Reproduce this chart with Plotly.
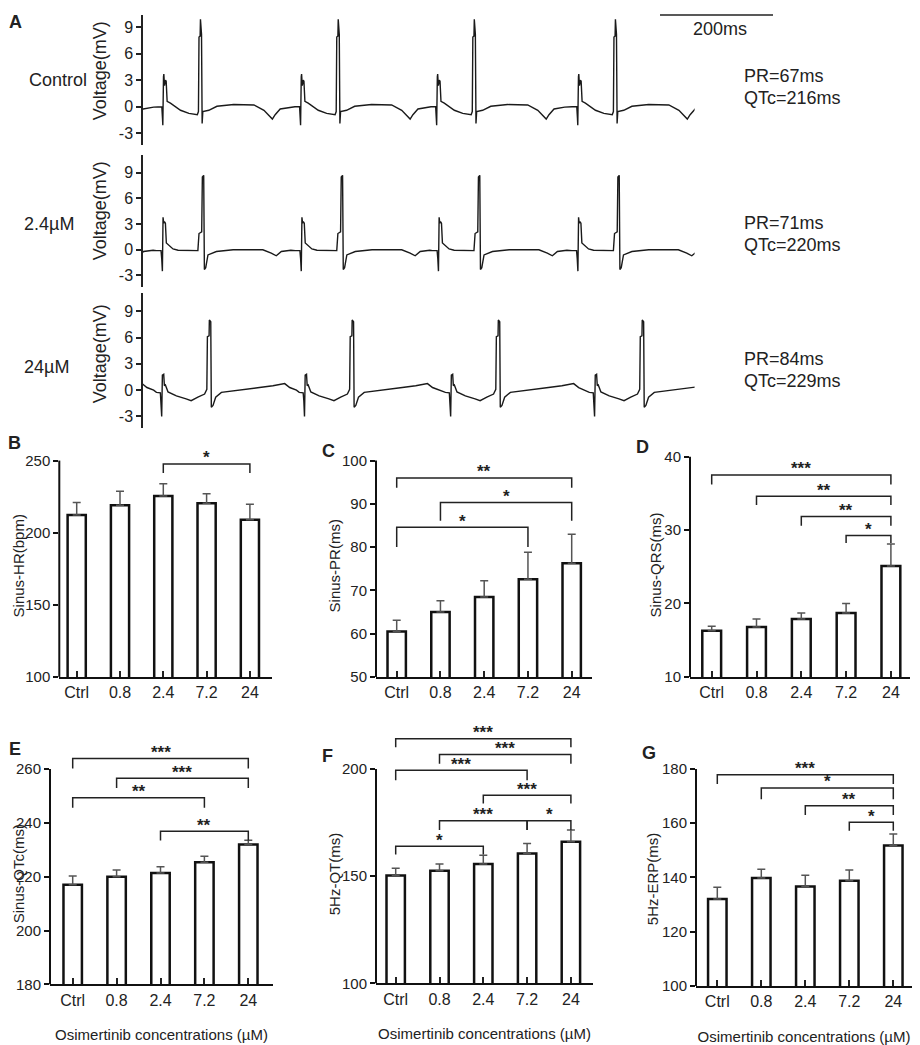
import plotly.graph_objects as go

# the page adds an 8px body margin, so the figure is 8px smaller and positions are shifted
OFF = 8
W, H = 920 - OFF, 1045 - OFF
FONT = "Liberation Sans, Arial, sans-serif"
INK = "#222"


def px(x):
    return (x - OFF) / W


def py(y):
    return 1 - (y - OFF) / H


# ---------------- panel A: ECG traces ----------------
ecg_names = ["Control", "2.4µM", "24µM"]
ecg_pr = ["PR=67ms", "PR=71ms", "PR=84ms"]
ecg_qtc = ["QTc=216ms", "QTc=220ms", "QTc=229ms"]

# one beat per trace: time (ms) from the small spike, voltage (mV)
ctrl_beat_t = [-10.7, -2.4, -1.2, -0.6, 0.6, 1.2, 2.4, 4.2, 5.4, 7.1, 13, 31, 46, 61, 63,
               64, 66, 66.6, 68.5, 69.6, 70.8, 81.5, 96, 126, 162, 180, 195, 200, 209, 228]
ctrl_beat_v = [0, 0, -1.3, -2.1, 3.4, 3.7, 2.4, 3.0, 2.9, 0.6, 0.4, -0.4, -0.75, -0.9, -0.55,
               7.9, 8.0, 9.9, 8.2, -1.9, -0.55, -0.4, 0.05, 0.25, 0.2, -0.4, -1.4, -0.9, -0.25, -0.05]
ctrl_spikes = [-209, 36, 282, 525, 777]

mid_beat_t = [-10, -1.8, -0.6, 0.6, 1.8, 3.0, 4.2, 6.0, 7.7, 10.7, 19.6, 28.6, 64, 66, 70.8,
              72, 74.4, 75.6, 78, 82, 97, 127, 180, 195, 204, 213, 230]
mid_beat_v = [-0.1, -0.1, -1.0, -2.5, 3.8, 3.1, 3.3, 3.1, 0.8, 0.6, 0.1, -0.05, -0.1, 1.9, 2.1,
              8.5, 8.7, -2.3, -2.1, -0.6, -0.2, 0, 0, -0.4, -0.7, -0.2, -0.05]
mid_spikes = [-212, 34, 282, 527, 776]

high_beat_t = [-10, -3, -1.8, -0.6, 0.6, 3, 4.2, 6, 10.7, 25.6, 43, 52, 64, 76, 80, 81, 84,
               84.5, 87, 88, 91, 95.8, 106, 127, 174, 198, 219, 228, 240]
high_beat_v = [-0.25, -0.3, -1.2, -3.0, 1.7, 1.8, 0.5, 0.6, -0.2, -0.65, -1.0, -1.2, -0.8, -0.45,
               0.1, 6.1, 6.2, 8.0, 7.8, -1.95, -1.75, -0.8, -0.25, -0.1, 0.3, 0.5, 0.75, 0.3, 0]
high_spikes = [-221, 34, 289, 550, 807]

# ---------------- panels B-G: bar charts ----------------
conc = ["Ctrl", "0.8", "2.4", "7.2", "24"]

hr_mean = [212.2, 219, 225.4, 220.4, 209]
hr_sem = [8.7, 9.8, 8.6, 6.6, 10.7]
hr_pairs = [(2, 4)]
hr_line = [247.7]
hr_leg = [241.4]
hr_stars = ["*"]

pr_mean = [60.5, 65, 68.5, 72.6, 76.3]
pr_sem = [2.6, 2.6, 3.7, 6.2, 6.7]
pr_pairs = [(0, 4), (1, 4), (0, 3)]
pr_line = [96.0, 90.3, 84.6]
pr_leg = [93.7, 86.1, 80.0]
pr_stars = ["**", "*", "*"]

qrs_mean = [16.3, 16.8, 17.9, 18.7, 25.1]
qrs_sem = [0.6, 1.1, 0.8, 1.3, 3.0]
qrs_pairs = [(0, 4), (1, 4), (2, 4), (3, 4)]
qrs_line = [37.5, 34.6, 31.85, 29.25]
qrs_leg = [36.2, 33.4, 30.6, 28.25]
qrs_stars = ["***", "**", "**", "*"]

qtc_mean = [217, 220, 221.4, 225.4, 232]
qtc_sem = [3.3, 2.5, 2.3, 2.2, 1.5]
qtc_pairs = [(0, 4), (1, 4), (0, 3), (2, 4)]
qtc_line = [263.9, 256.6, 249.3, 236.9]
qtc_leg = [260.2, 252.9, 245.6, 233.4]
qtc_stars = ["***", "***", "**", "**"]

qt_mean = [150.3, 152.6, 155.7, 160.6, 166.1]
qt_sem = [3.4, 3.1, 4.1, 4.6, 5.4]
qt_pairs = [(0, 4), (1, 4), (0, 3), (2, 4), (1, 3), (3, 4), (0, 2)]
qt_line = [214.1, 206.7, 199.4, 187.7, 175.8, 175.8, 164.0]
qt_leg = [210.1, 202.4, 194.8, 183.9, 171.6, 171.6, 160.1]
qt_stars = ["***", "***", "***", "***", "***", "*", "*"]

erp_mean = [132.1, 139.8, 136.7, 138.8, 151.8]
erp_sem = [4.3, 3.2, 4.1, 4.0, 4.2]
erp_pairs = [(0, 4), (1, 4), (2, 4), (3, 4)]
erp_line = [177.9, 173.0, 166.4, 160.4]
erp_leg = [174.5, 168.8, 163.0, 157.2]
erp_stars = ["***", "*", "**", "*"]

fig = go.Figure()
layout = dict(
    width=W, height=H, margin=dict(l=0, r=0, t=0, b=0),
    paper_bgcolor="white", plot_bgcolor="white", showlegend=False,
    font=dict(family=FONT, size=16, color=INK),
)
annotations = []
shapes = []


def note(text, x, y, size=18, xanchor="center", angle=0, bold=False):
    if bold:
        text = "<b>" + text + "</b>"
    annotations.append(dict(text=text, x=px(x), y=py(y), xref="paper", yref="paper",
                            showarrow=False, xanchor=xanchor, yanchor="middle",
                            textangle=angle, font=dict(size=size, color=INK)))


# ECG rows: zero-line pixel, px per mV, top of axis (mV), label positions
ecg_rows = [
    (ctrl_beat_t, ctrl_beat_v, ctrl_spikes, 102, 8.95, 10.4, 27, 75, 66, 71),
    (mid_beat_t, mid_beat_v, mid_spikes, 247, 8.67, 11.1, 22, 221, 208, 220),
    (high_beat_t, high_beat_v, high_spikes, 389.3, 8.89, 11.1, 22, 366, 353, 358),
]
for k, (bt, bv, spikes, z0, s, top, lab_x, lab_y, vt_y, pr_y) in enumerate(ecg_rows):
    n = k + 1
    t = [sp + x for sp in spikes for x in bt]
    v = [y for sp in spikes for y in bv]
    fig.add_trace(go.Scatter(x=t, y=v, mode="lines", line=dict(color="#1a1a1a", width=1.4),
                             xaxis=f"x{n}", yaxis=f"y{n}", hoverinfo="skip"))
    layout[f"xaxis{n}"] = dict(domain=[px(143), px(143 + 985 * 0.56)], range=[0, 985],
                               visible=False, anchor=f"y{n}")
    layout[f"yaxis{n}"] = dict(
        domain=[py(z0 + 4.3 * s), py(z0 - top * s)], range=[-4.3, top], anchor=f"x{n}",
        tickvals=[-3, 0, 3, 6, 9], ticktext=["-3", "0", "3", "6", "9"],
        ticks="outside", ticklen=5, tickwidth=1.5, tickcolor=INK,
        showline=True, linewidth=1.5, linecolor=INK, showgrid=False, zeroline=False,
        tickfont=dict(size=16))
    note(ecg_names[k], lab_x, lab_y, xanchor="left")
    note("Voltage(mV)", 100, vt_y, angle=-90)
    note(ecg_pr[k], 742, pr_y, xanchor="left")
    note(ecg_qtc[k], 742, pr_y + 22, xanchor="left")

note("A", 15, 16, bold=True)
shapes.append(dict(type="line", xref="paper", yref="paper", x0=px(660), x1=px(773),
                   y0=py(9), y1=py(9), line=dict(color=INK, width=1.5)))
note("200ms", 720, 23)

# bar panels: data + pixel geometry
panels = [
    dict(letter="B", mean=hr_mean, sem=hr_sem, pairs=hr_pairs, line=hr_line, leg=hr_leg,
         stars=hr_stars, title="Sinus-HR(bpm)", ylo=100, ytk=250, dt=50,
         left=59.3, right=272, c0=76.7, sp=43.3, ybot=680, ytkpx=460.7, ytop=452,
         tx=18, ty=568, lx=14, ly=443, bottom=False),
    dict(letter="C", mean=pr_mean, sem=pr_sem, pairs=pr_pairs, line=pr_line, leg=pr_leg,
         stars=pr_stars, title="Sinus-PR(ms)", ylo=50, ytk=100, dt=10,
         left=376, right=592, c0=396.7, sp=43.75, ybot=680, ytkpx=460.7, ytop=458,
         tx=334, ty=568, lx=328, ly=451, bottom=False),
    dict(letter="D", mean=qrs_mean, sem=qrs_sem, pairs=qrs_pairs, line=qrs_line, leg=qrs_leg,
         stars=qrs_stars, title="Sinus-QRS(ms)", ylo=10, ytk=40, dt=10,
         left=690, right=910, c0=711.7, sp=44.8, ybot=680, ytkpx=456.7, ytop=452,
         tx=655, ty=567, lx=642, ly=447, bottom=False),
    dict(letter="E", mean=qtc_mean, sem=qtc_sem, pairs=qtc_pairs, line=qtc_line, leg=qtc_leg,
         stars=qtc_stars, title="Sinus-QTc(ms)", ylo=180, ytk=260, dt=20,
         left=50, right=273, c0=72.7, sp=43.9, ybot=991.7, ytkpx=773.3, ytop=752,
         tx=18, ty=880, lx=15, ly=753, bottom=True),
    dict(letter="F", mean=qt_mean, sem=qt_sem, pairs=qt_pairs, line=qt_line, leg=qt_leg,
         stars=qt_stars, title="5Hz-QT(ms)", ylo=100, ytk=200, dt=50,
         left=376, right=593, c0=395.7, sp=43.8, ybot=990.7, ytkpx=773.3, ytop=735,
         tx=334, ty=880, lx=327, ly=760, bottom=True),
    dict(letter="G", mean=erp_mean, sem=erp_sem, pairs=erp_pairs, line=erp_line, leg=erp_leg,
         stars=erp_stars, title="5Hz-ERP(ms)", ylo=100, ytk=180, dt=20,
         left=696, right=912, c0=717.3, sp=44.0, ybot=993.3, ytkpx=773.3, ytop=768,
         tx=652, ty=885, lx=649, ly=757, bottom=True),
]

xs = list(range(len(conc)))
for k, p in enumerate(panels):
    n = k + 4
    xa, ya = f"x{n}", f"y{n}"
    fig.add_trace(go.Bar(
        x=xs, y=p["mean"], width=0.42, xaxis=xa, yaxis=ya,
        marker=dict(color="white", line=dict(color="#111", width=2.5)),
        error_y=dict(type="data", array=p["sem"], arrayminus=[0] * len(xs), symmetric=False,
                     color="#555", thickness=1.5, width=4),
        hoverinfo="skip"))
    for (i, j), ly_, lg, st in zip(p["pairs"], p["line"], p["leg"], p["stars"]):
        fig.add_trace(go.Scatter(x=[i, i, j, j], y=[lg, ly_, ly_, lg], mode="lines",
                                 line=dict(color=INK, width=1.5), xaxis=xa, yaxis=ya,
                                 hoverinfo="skip"))
        annotations.append(dict(text="<b>" + st + "</b>", x=(i + j) / 2, y=ly_, xref=xa,
                                yref=ya, showarrow=False, yanchor="middle", yshift=6,
                                font=dict(size=17, color=INK)))
    hi = p["ylo"] + (p["ytk"] - p["ylo"]) * (p["ybot"] - p["ytop"]) / (p["ybot"] - p["ytkpx"])
    xaxis = dict(
        domain=[px(p["left"]), px(p["right"])], anchor=ya,
        range=[(p["left"] - p["c0"]) / p["sp"], (p["right"] - p["c0"]) / p["sp"]],
        tickvals=xs, ticktext=conc, ticks="inside", ticklen=6, tickwidth=1.5, tickcolor=INK,
        showline=True, linewidth=2, linecolor="#111", showgrid=False, zeroline=False,
        tickfont=dict(size=16))
    if p["bottom"]:
        xaxis["title"] = dict(text="Osimertinib concentrations (µM)", font=dict(size=15),
                              standoff=22)
    layout[f"xaxis{n}"] = xaxis
    layout[f"yaxis{n}"] = dict(
        domain=[py(p["ybot"]), py(p["ytop"])], range=[p["ylo"], hi], anchor=xa,
        tickvals=list(range(p["ylo"], p["ytk"] + 1, p["dt"])),
        ticks="outside", ticklen=5, tickwidth=2, tickcolor="#111",
        showline=False, showgrid=False, zeroline=False, tickfont=dict(size=15))
    shapes.append(dict(type="line", xref=f"{xa} domain", yref=ya, x0=0, x1=0,
                       y0=p["ylo"], y1=p["ytk"], line=dict(color="#111", width=2)))
    note(p["title"], p["tx"], p["ty"], size=15, angle=-90)
    note(p["letter"], p["lx"], p["ly"], bold=True)

layout["annotations"] = annotations
layout["shapes"] = shapes
fig.update_layout(**layout)
fig.write_html("out.html")
